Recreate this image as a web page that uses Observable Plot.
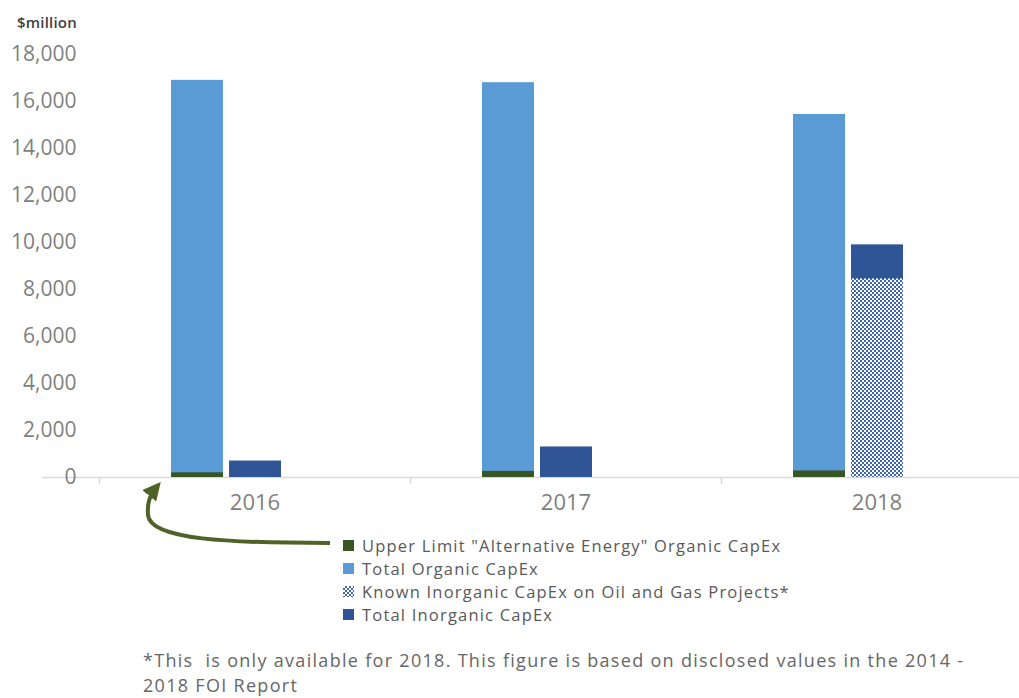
<!DOCTYPE html>
<html>
<head>
<meta charset="utf-8">
<script src="https://cdn.jsdelivr.net/npm/d3@7"></script>
<script src="https://cdn.jsdelivr.net/npm/@observablehq/plot@0.6"></script>
<style>
  html, body { margin: 0; padding: 0; background: #fff; }
  #wrap { position: relative; width: 1019px; height: 698px; font-family: "Open Sans", sans-serif; }
  #chart { position: absolute; left: 0; top: 0; }
  #unit { position: absolute; left: 17px; top: 12px; font-size: 15px; font-weight: 600; color: #404040; letter-spacing: 0.2px; }
  #legend { position: absolute; left: 343px; top: 534px; font-size: 16.5px; color: #595959; letter-spacing: 1.2px; }
  #legend .row { height: 23px; line-height: 23px; display: flex; align-items: center; white-space: nowrap; }
  #legend .sw { width: 11px; height: 11px; margin-right: 8px; flex: none; }
  #note { position: absolute; left: 143px; top: 648px; font-size: 18px; line-height: 25px; color: #666; width: 835px; white-space: pre-wrap; letter-spacing: 1.3px; }
  #arrow { position: absolute; left: 0; top: 0; pointer-events: none; }
</style>
</head>
<body>
<div id="wrap">
  <div id="chart"></div>
  <div id="unit">$million</div>
  <div id="legend"></div>
  <div id="note"></div>
  <svg id="arrow" width="1019" height="698"></svg>
</div>
<script>
// ---- data ----
const years = [2016, 2017, 2018];
const altEnergyOrganic = [200, 260, 280];          // Upper Limit "Alternative Energy" Organic CapEx
const totalOrganic = [16900, 16800, 15450];        // Total Organic CapEx
const knownInorganic = [null, null, 8450];         // Known Inorganic CapEx on Oil and Gas Projects*
const totalInorganic = [700, 1300, 9900];          // Total Inorganic CapEx
const yTicks = [0, 2000, 4000, 6000, 8000, 10000, 12000, 14000, 16000, 18000];
const seriesNames = [
  'Upper Limit "Alternative Energy" Organic CapEx',
  'Total Organic CapEx',
  'Known Inorganic CapEx on Oil and Gas Projects*',
  'Total Inorganic CapEx'
];
const footnote = "*This  is only available for 2018. This figure is based on disclosed values in the 2014 - 2018 FOI Report";

// ---- colours ----
const cGreen = "#375623";
const cLight = "#5B9BD5";
const cDark = "#2F5597";
const cHatch = "#3F66B0";

const rows = (arr) => years.map((y, i) => ({year: y, v: arr[i]})).filter(d => d.v != null);

const plot = Plot.plot({
  width: 1019,
  height: 530,
  marginLeft: 42,
  marginRight: 0,
  marginTop: 40,
  marginBottom: 53,
  x: {domain: years, range: [99, 1032], padding: 0, axis: null},
  y: {domain: [0, 18000], range: [477, 54], axis: null},
  style: {fontFamily: "Open Sans, sans-serif", background: "transparent", overflow: "visible"},
  marks: [
    Plot.ruleY([0], {stroke: "#d9d9d9", strokeWidth: 1.5}),
    Plot.ruleX(years, {x: d => d, y1: 0, y2: 0, insetBottom: -7, dx: -155.5, stroke: "#d9d9d9", strokeWidth: 1.5}),
    Plot.barY(rows(totalOrganic), {x: "year", y: "v", fill: cLight, insetLeft: 72, insetRight: 187}),
    Plot.barY(rows(altEnergyOrganic), {x: "year", y: "v", fill: cGreen, insetLeft: 72, insetRight: 187}),
    Plot.barY(rows(totalInorganic), {x: "year", y: "v", fill: cDark, insetLeft: 130, insetRight: 129}),
    Plot.barY(rows(knownInorganic), {x: "year", y: "v", fill: "url(#hatch)", insetLeft: 130, insetRight: 129}),
    Plot.text(yTicks, {y: d => d, text: d => d3.format(",")(d), frameAnchor: "left", textAnchor: "end", dx: 34, fontSize: 21, fill: "#7f7f7f"}),
    Plot.text(years, {x: d => d, text: d => String(d), frameAnchor: "bottom", dy: 32, fontSize: 22, fill: "#7f7f7f"})
  ]
});
document.getElementById("chart").appendChild(plot);

// hatch pattern definition
const svg = d3.select(plot);
const defs = svg.insert("defs", ":first-child");
const pat = defs.append("pattern").attr("id", "hatch").attr("patternUnits", "userSpaceOnUse")
  .attr("width", 4).attr("height", 4);
pat.append("rect").attr("width", 4).attr("height", 4).attr("fill", "#ffffff");
pat.append("rect").attr("x", 0).attr("y", 0).attr("width", 2).attr("height", 2).attr("fill", cHatch);
pat.append("rect").attr("x", 2).attr("y", 2).attr("width", 2).attr("height", 2).attr("fill", cHatch);

// legend
const swatches = [cGreen, cLight, "hatch", cDark];
const legend = d3.select("#legend");
seriesNames.forEach((name, i) => {
  const row = legend.append("div").attr("class", "row");
  const sw = row.append("div").attr("class", "sw");
  if (swatches[i] === "hatch") {
    sw.style("background", `repeating-conic-gradient(${cHatch} 0% 25%, #ffffff 0% 50%) 0 0 / 4px 4px`);
  } else {
    sw.style("background", swatches[i]);
  }
  row.append("span").text(name);
});

document.getElementById("note").textContent = footnote;

// annotation arrow from legend to 2016 alternative-energy bar
const arr = d3.select("#arrow");
arr.append("defs").append("marker").attr("id", "ah").attr("viewBox", "0 0 10 10")
  .attr("refX", 5).attr("refY", 5).attr("markerWidth", 4.5).attr("markerHeight", 4.5)
  .attr("orient", "auto-start-reverse")
  .append("path").attr("d", "M0,0 L10,5 L0,10 z").attr("fill", "#4F6228");
arr.append("path")
  .attr("d", "M330,543 C230,543 150,540 148,515 C147,503 150,495 155,489")
  .attr("fill", "none").attr("stroke", "#4F6228").attr("stroke-width", 4)
  .attr("marker-end", "url(#ah)");
</script>
</body>
</html>
